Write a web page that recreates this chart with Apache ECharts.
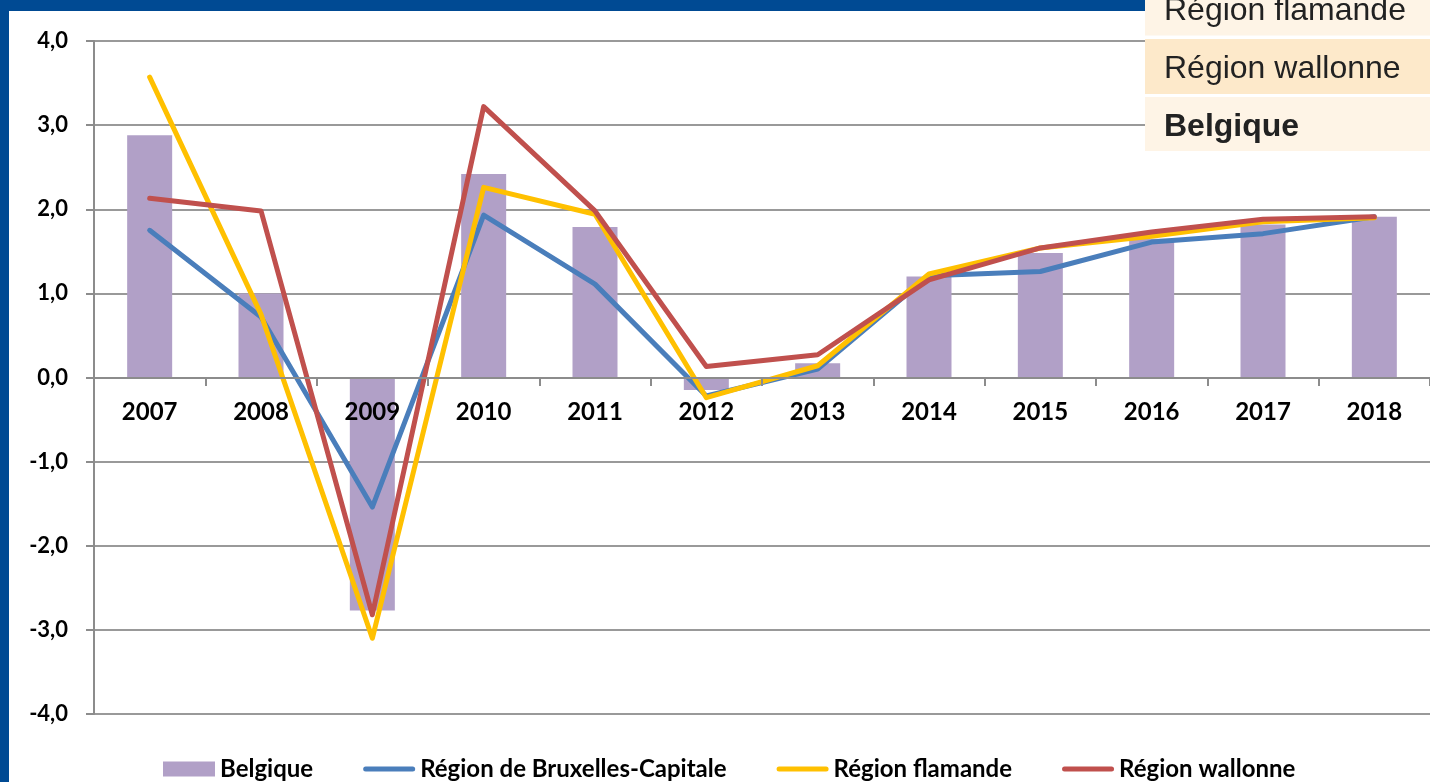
<!DOCTYPE html>
<html>
<head>
<meta charset="utf-8">
<script src="https://cdn.jsdelivr.net/npm/echarts@6/dist/echarts.min.js"></script>
<style>
    html, body { margin: 0; padding: 0; background: #fff; }
    #chart { width: 1430px; height: 782px; }
</style>
</head>
<body>
<div id="chart"></div>
<script>
const years = ['2007', '2008', '2009', '2010', '2011', '2012', '2013', '2014', '2015', '2016', '2017', '2018'];
const belgique = [2.88, 1.0, -2.77, 2.42, 1.79, -0.15, 0.17, 1.2, 1.48, 1.65, 1.82, 1.91];
const bruxelles = [1.75, 0.72, -1.54, 1.93, 1.11, -0.22, 0.1, 1.21, 1.26, 1.61, 1.71, 1.91];
const flamande = [3.57, 0.75, -3.1, 2.26, 1.94, -0.24, 0.14, 1.23, 1.54, 1.68, 1.85, 1.9];
const wallonne = [2.13, 1.98, -2.82, 3.22, 1.98, 0.13, 0.27, 1.16, 1.54, 1.73, 1.88, 1.91];
const tableRows = ['Région flamande', 'Région wallonne', 'Belgique'];

document.addEventListener('DOMContentLoaded', function() {
    initChart();
});

function lineSeries(name, data, color) {
    return {
        name: name,
        type: 'line',
        data: data,
        symbol: 'none',
        lineStyle: { color: color, width: 5, cap: 'round', join: 'round' },
        itemStyle: { color: color }
    };
}

// flat bar with rounded ends, used as legend icon for the lines
const lineIcon = 'path://M2.5,0 L49.5,0 A2.5,2.5 0 0 1 49.5,5 L2.5,5 A2.5,2.5 0 0 1 2.5,0 Z';

function initChart() {
    const chart = echarts.init(document.getElementById('chart'));

    // overlay table at top right, plus the blue frame
    const rowBoxes = [
        { y: -20, h: 55.5, fill: '#FEF4E6' },
        { y: 39, h: 55, fill: '#FDE9CA' },
        { y: 97, h: 54, fill: '#FEF4E6' }
    ];
    const graphics = [
        { type: 'rect', shape: { x: 0, y: 0, width: 1430, height: 11 }, style: { fill: '#004A93' }, z: 50 },
        { type: 'rect', shape: { x: 0, y: 0, width: 9, height: 782 }, style: { fill: '#004A93' }, z: 50 }
    ];
    rowBoxes.forEach(function(b, i) {
        graphics.push({
            type: 'rect',
            shape: { x: 1145, y: b.y, width: 290, height: b.h },
            style: { fill: b.fill },
            z: 60
        });
        graphics.push({
            type: 'text',
            x: 1164,
            y: b.y + b.h / 2 + 3,
            style: {
                text: tableRows[i],
                font: (i === 2 ? 'bold ' : '') + '32px "Liberation Sans", Arial, sans-serif',
                fill: '#222',
                textVerticalAlign: 'middle'
            },
            z: 61
        });
    });

    const option = {
        animation: false,
        backgroundColor: '#fff',
        grid: { left: 94, top: 41, width: 1343, height: 673 },
        legend: {
            left: 163,
            top: 757,
            padding: 0,
            itemWidth: 52,
            itemHeight: 15,
            itemGap: 50,
            textStyle: { fontFamily: 'Lato', fontWeight: 'bold', fontSize: 24, color: '#000' },
            data: [
                { name: 'Belgique', icon: 'rect' },
                { name: 'Région de Bruxelles-Capitale', icon: lineIcon, itemStyle: { color: '#4A7EBB' } },
                { name: 'Région flamande', icon: lineIcon, itemStyle: { color: '#FFC000' } },
                { name: 'Région wallonne', icon: lineIcon, itemStyle: { color: '#C0504D' } }
            ]
        },
        xAxis: {
            type: 'category',
            data: years,
            position: 'bottom',
            offset: -336,
            z: 10,
            axisLine: { onZero: false, lineStyle: { color: '#8c8c8c', width: 2 } },
            axisTick: { show: true, length: 8, lineStyle: { color: '#8c8c8c', width: 2 } },
            axisLabel: {
                interval: 0,
                margin: 22,
                fontFamily: 'Lato',
                fontWeight: 'bold',
                fontSize: 24,
                color: '#000'
            }
        },
        yAxis: {
            type: 'value',
            min: -4,
            max: 4,
            interval: 1,
            axisLine: { show: true, lineStyle: { color: '#8c8c8c', width: 2 } },
            axisTick: { show: true, length: 8, lineStyle: { color: '#8c8c8c', width: 2 } },
            splitLine: { lineStyle: { color: '#999', width: 2 } },
            axisLabel: {
                margin: 26,
                fontFamily: 'Lato',
                fontWeight: 'bold',
                fontSize: 22,
                color: '#000',
                formatter: function(v) { return v.toFixed(1).replace('.', ','); }
            }
        },
        graphic: graphics,
        series: [
            {
                name: 'Belgique',
                type: 'bar',
                data: belgique,
                barWidth: 45,
                itemStyle: { color: '#B1A0C7' }
            },
            lineSeries('Région de Bruxelles-Capitale', bruxelles, '#4A7EBB'),
            lineSeries('Région flamande', flamande, '#FFC000'),
            lineSeries('Région wallonne', wallonne, '#C0504D')
        ]
    };

    chart.setOption(option);
}
</script>
</body>
</html>
